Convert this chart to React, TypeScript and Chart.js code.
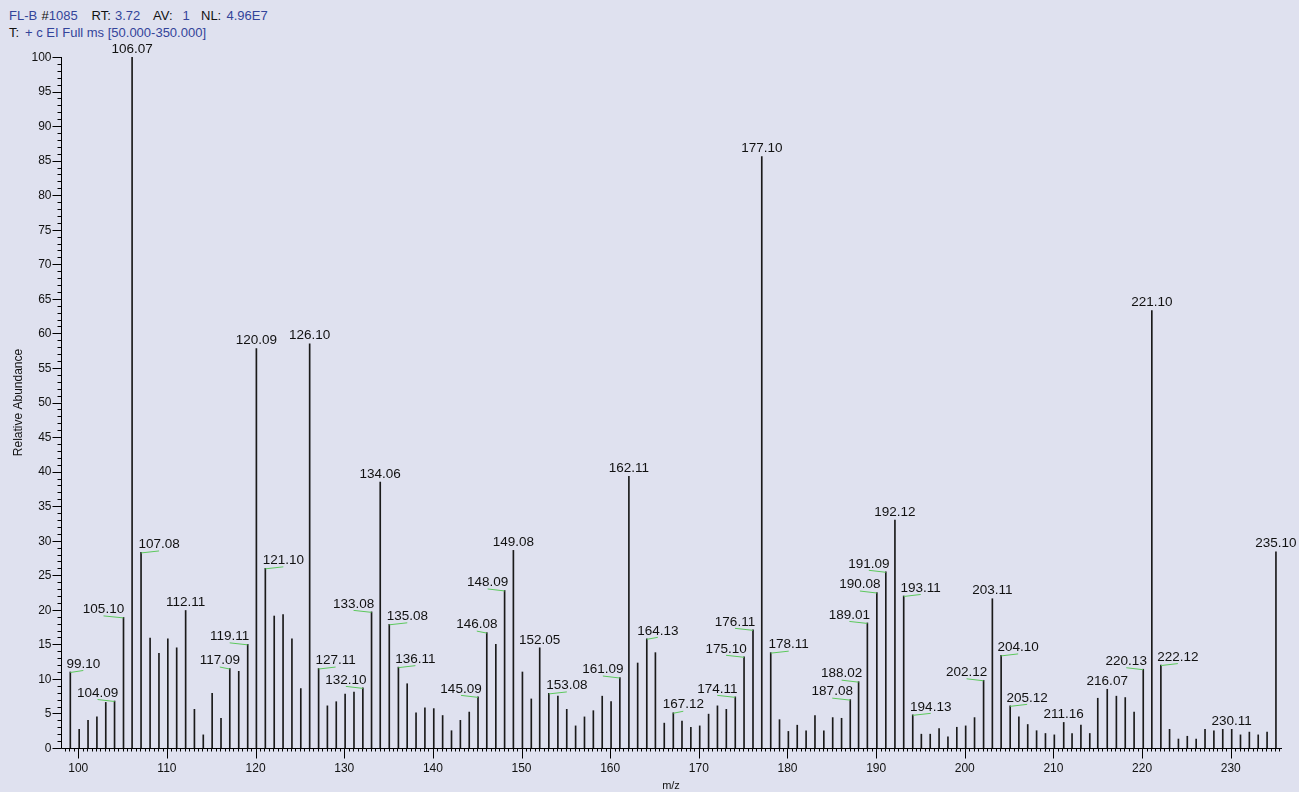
import React, { useEffect, useRef } from "react";
import { Chart, registerables } from "chart.js";

Chart.register(...registerables);

// Centroided EI spectrum: m/z of each peak and its relative abundance (%)
const mz = [
  99.1, 100.1, 101.1, 102.1, 103.1, 104.09, 105.1, 106.07, 107.08, 108.1,
  109.1, 110.1, 111.1, 112.11, 113.1, 114.1, 115.1, 116.1, 117.09, 118.1,
  119.11, 120.09, 121.1, 122.1, 123.1, 124.1, 125.1, 126.1, 127.11, 128.1,
  129.1, 130.1, 131.1, 132.1, 133.08, 134.06, 135.08, 136.11, 137.1, 138.1,
  139.1, 140.1, 141.1, 142.1, 143.1, 144.1, 145.09, 146.08, 147.1, 148.09,
  149.08, 150.1, 151.1, 152.05, 153.08, 154.1, 155.1, 156.1, 157.1, 158.1,
  159.1, 160.1, 161.09, 162.11, 163.1, 164.13, 165.1, 166.1, 167.12, 168.1,
  169.1, 170.1, 171.1, 172.1, 173.1, 174.11, 175.1, 176.11, 177.1, 178.11,
  179.1, 180.1, 181.1, 182.1, 183.1, 184.1, 185.1, 186.1, 187.08, 188.02,
  189.01, 190.08, 191.09, 192.12, 193.11, 194.13, 195.1, 196.1, 197.1, 198.1,
  199.1, 200.1, 201.1, 202.12, 203.11, 204.1, 205.12, 206.1, 207.1, 208.1,
  209.1, 210.1, 211.16, 212.1, 213.1, 214.1, 215.0, 216.07, 217.1, 218.1,
  219.1, 220.13, 221.1, 222.12, 223.1, 224.1, 225.1, 226.1, 227.1, 228.1,
  229.1, 230.11, 231.1, 232.1, 233.1, 234.1, 235.1,
];

const abundance = [
  11.0, 2.7, 4.0, 4.5, 6.6, 6.8, 18.9, 100, 28.3, 15.9,
  13.7, 15.8, 14.5, 19.9, 5.6, 1.9, 7.9, 4.3, 11.5, 11.1,
  15.0, 57.8, 26.0, 19.1, 19.3, 15.8, 8.6, 58.5, 11.5, 6.1,
  6.7, 7.8, 8.1, 8.7, 19.7, 38.5, 17.9, 11.7, 9.3, 5.1,
  5.8, 5.7, 4.7, 2.5, 4.0, 5.2, 7.4, 16.7, 15.0, 22.8,
  28.6, 11.0, 7.1, 14.5, 7.9, 7.5, 5.6, 3.2, 4.5, 5.4,
  7.5, 6.7, 10.2, 39.3, 12.3, 15.8, 13.8, 3.6, 5.1, 3.9,
  3.0, 3.2, 4.9, 6.1, 5.6, 7.4, 13.2, 17.1, 85.6, 13.8,
  4.1, 2.4, 3.3, 2.5, 4.7, 2.5, 4.4, 4.3, 7.0, 9.6,
  18.1, 22.5, 25.5, 33.0, 22.0, 4.8, 2.0, 2.0, 2.8, 1.6,
  3.0, 3.2, 4.4, 9.8, 21.6, 13.4, 6.1, 4.5, 3.4, 2.5,
  2.1, 1.9, 3.7, 2.1, 3.3, 2.1, 7.2, 8.5, 7.5, 7.3,
  5.2, 11.4, 63.3, 12.0, 2.7, 1.3, 1.7, 1.3, 2.7, 2.5,
  2.7, 2.7, 1.9, 2.3, 1.9, 2.3, 28.4,
];

// Peaks that carry an m/z annotation
const labeledMz = [
  99.1, 104.09, 105.1, 106.07, 107.08, 112.11, 117.09, 119.11, 120.09, 121.1,
  126.1, 127.11, 132.1, 133.08, 134.06, 135.08, 136.11, 145.09, 146.08, 148.09,
  149.08, 152.05, 153.08, 161.09, 162.11, 164.13, 167.12, 174.11, 175.1, 176.11,
  177.1, 178.11, 187.08, 188.02, 189.01, 190.08, 191.09, 192.12, 193.11, 194.13,
  202.12, 203.11, 204.1, 205.12, 211.16, 216.07, 220.13, 221.1, 222.12, 230.11,
  235.1,
];

// Horizontal displacement (px) of each annotation; non-zero ones get a leader line
const labelShift = [
  13, -17, -20, 0, 18, 0, -10, -18, 0, 18,
  0, 17, -17, -18, 0, 18, 17, -17, -10, -17,
  0, 0, 18, -17, 0, 11, 10, -18, -18, -18,
  0, 18, -18, -17, -18, -17, -17, 0, 17, 18,
  -17, 0, 17, 17, 0, 0, -17, 0, 17, 0,
  0,
];

const xTickLabels = [100, 110, 120, 130, 140, 150, 160, 170, 180, 190, 200, 210, 220, 230];
const yTickLabels = [0, 5, 10, 15, 20, 25, 30, 35, 40, 45, 50, 55, 60, 65, 70, 75, 80, 85, 90, 95, 100];

const xRange = [98.05, 235.67];
const yRange = [0, 100];

const FONT = '"Liberation Sans", Arial, Helvetica, sans-serif';
const BLUE = "#33449a";

const spectrumAxes = {
  id: "spectrumAxes",
  afterDatasetsDraw(chart: any) {
    const { ctx, chartArea: a } = chart;
    const xs = chart.scales.x;
    const ys = chart.scales.y;
    const ax = Math.round(a.left) + 0.5;
    const ay = Math.round(a.bottom) + 0.5;

    ctx.save();
    ctx.strokeStyle = "#000";
    ctx.lineWidth = 1;

    const seg = (x1: number, y1: number, x2: number, y2: number) => {
      ctx.beginPath();
      ctx.moveTo(x1, y1);
      ctx.lineTo(x2, y2);
      ctx.stroke();
    };

    // axis lines
    seg(ax, Math.round(a.top), ax, ay);
    seg(ax, ay, Math.round(a.right) + 1, ay);

    // y ticks: every 1 %, longer every 5 %
    for (let v = yRange[0]; v <= yRange[1]; v++) {
      const py = Math.round(ys.getPixelForValue(v)) + 0.5;
      const len = v % 5 === 0 ? 9 : 4;
      seg(ax - len, py, ax, py);
    }

    // x ticks: every 0.5, longer every 10
    for (let i = Math.ceil(xRange[0] * 2); i <= Math.floor(xRange[1] * 2); i++) {
      const v = i / 2;
      const px = Math.round(xs.getPixelForValue(v)) + 0.5;
      const len = v % 10 === 0 ? 10 : 3;
      seg(px, ay, px, ay + len);
    }

    ctx.fillStyle = "#111";
    ctx.font = `12px ${FONT}`;
    ctx.textBaseline = "middle";

    ctx.textAlign = "right";
    yTickLabels.forEach((v) => {
      ctx.fillText(String(v), ax - 10, ys.getPixelForValue(v) + 0.5);
    });

    ctx.textAlign = "center";
    xTickLabels.forEach((v) => {
      ctx.fillText(String(v), xs.getPixelForValue(v), ay + 20);
    });

    // axis titles
    ctx.font = `11px ${FONT}`;
    ctx.fillText("m/z", (a.left + a.right) / 2, ay + 37);
    ctx.save();
    ctx.translate(19, (a.top + a.bottom) / 2);
    ctx.rotate(-Math.PI / 2);
    ctx.font = `12px ${FONT}`;
    ctx.fillText("Relative Abundance", 0, 0);
    ctx.restore();

    // peak annotations
    ctx.font = `13.5px ${FONT}`;
    labeledMz.forEach((m, i) => {
      const k = mz.indexOf(m);
      if (k < 0) return;
      const px = xs.getPixelForValue(m);
      const py = ys.getPixelForValue(abundance[k]);
      const dx = labelShift[i];
      if (dx !== 0) {
        ctx.strokeStyle = "#5cc85c";
        ctx.lineWidth = 1;
        seg(px, py + 0.5, px + dx, py - 1.5);
      }
      ctx.fillStyle = "#111";
      ctx.fillText(m.toFixed(2), px + dx, py - 8);
    });

    ctx.restore();
  },
};

export default function App() {
  const canvasRef = useRef<HTMLCanvasElement | null>(null);

  useEffect(() => {
    const canvas = canvasRef.current;
    if (!canvas) return;
    const chart = new Chart(canvas, {
      type: "bar",
      data: {
        datasets: [
          {
            data: mz.map((m, i) => ({ x: m, y: abundance[i] })),
            backgroundColor: "#1a1a1a",
            borderWidth: 0,
            barThickness: 1,
          },
        ],
      },
      options: {
        responsive: false,
        animation: false,
        events: [],
        layout: { padding: { left: 61, right: 18, top: 57, bottom: 44 } },
        plugins: { legend: { display: false }, tooltip: { enabled: false } },
        scales: {
          x: { type: "linear", min: xRange[0], max: xRange[1], display: false, offset: false },
          y: { type: "linear", min: yRange[0], max: yRange[1], display: false },
        },
      },
      plugins: [spectrumAxes],
    } as any);
    return () => chart.destroy();
  }, []);

  const part = (left: number, text: string, color: string) => (
    <span style={{ position: "absolute", left, top: 0, color, whiteSpace: "pre" }}>{text}</span>
  );

  return (
    <div
      style={{
        position: "fixed",
        left: 0,
        top: 0,
        width: 1299,
        height: 792,
        background: "#dfe1ef",
        fontFamily: FONT,
        fontSize: 13,
        lineHeight: "15px",
        overflow: "hidden",
      }}
    >
      <div style={{ position: "absolute", left: 0, top: 8, height: 15, width: 400 }}>
        {part(9, "FL-B", BLUE)}
        {part(41.5, "#", "#111")}
        {part(48.8, "1085", BLUE)}
        {part(91.5, "RT:", "#111")}
        {part(115, "3.72", BLUE)}
        {part(153, "AV:", "#111")}
        {part(182.5, "1", BLUE)}
        {part(201, "NL:", "#111")}
        {part(226.5, "4.96E7", BLUE)}
      </div>
      <div style={{ position: "absolute", left: 0, top: 25, height: 15, width: 400 }}>
        {part(9, "T:", "#111")}
        {part(25, "+ c EI Full ms [50.000-350.000]", BLUE)}
      </div>
      <canvas
        ref={canvasRef}
        width={1299}
        height={792}
        style={{ position: "absolute", left: 0, top: 0, width: 1299, height: 792 }}
      />
    </div>
  );
}
